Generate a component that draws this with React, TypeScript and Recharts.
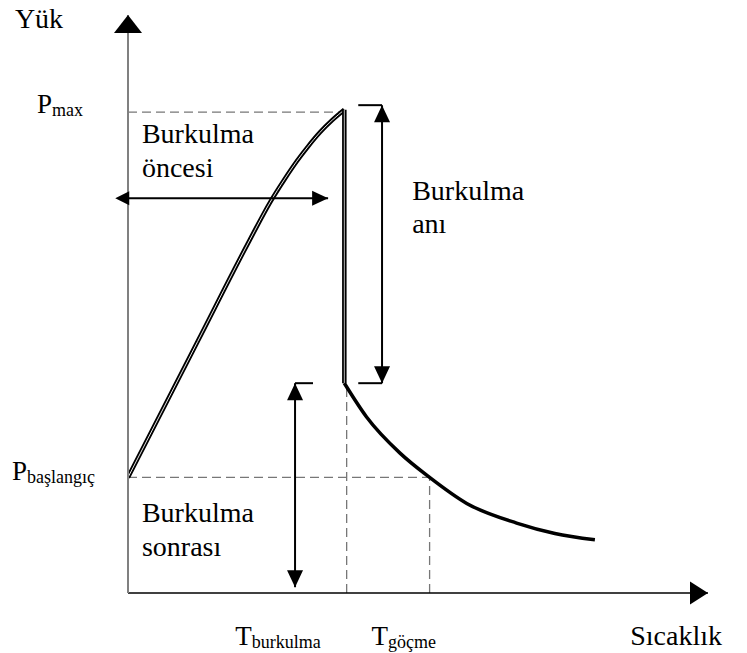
import React from 'react';
import { LineChart, Line, XAxis, YAxis, ReferenceDot } from 'recharts';

// key values on the load (P) and temperature (T) axes, 0..100 units
const P_START = 20;
const P_MAX = 83.6;
const T_BUCKLE = 37.3;
const T_COLLAPSE = 52;
const DROP_BOTTOM = 36.3;

// pre-buckling branch
const riseT = [0, 12, 21, 24.5, 27, 29.1, 31, 33.1, 35.2, T_BUCKLE];
const riseP = [P_START, 43.5, 61.1, 67.6, 71.6, 74.7, 77.2, 79.7, 81.8, P_MAX];

// post-buckling branch
const fallT = [T_BUCKLE, 41.1, 46.9, T_COLLAPSE, 58.4, 67.0, 73.6, 80.5];
const fallP = [DROP_BOTTOM, 30.5, 24.2, P_START, 15.5, 12.1, 10.3, 9.2];

const yTicks = [P_START, P_MAX];
const yTickSubs = ['başlangıç', 'max'];
const xTicks = [T_BUCKLE, T_COLLAPSE];
const xTickSubs = ['burkulma', 'göçme'];

// annotation arrows
const preArrow = { y: 68.3, from: -2.2, to: 34.5 };
const duringArrow = { x: 43.8, from: DROP_BOTTOM, to: 84.4, barFrom: 39.7 };
const postArrow = { x: 28.8, from: 1.0, to: DROP_BOTTOM, barTo: 31.9 };

const texts = [
  { x: -19.5, y: 97.8, text: 'Yük' },
  { x: 86.6, y: -9.0, text: 'Sıcaklık' },
  { x: 2.4, y: 77.9, text: 'Burkulma' },
  { x: 2.4, y: 72.0, text: 'öncesi' },
  { x: 49.0, y: 68.0, text: 'Burkulma' },
  { x: 49.0, y: 62.3, text: 'anı' },
  { x: 2.4, y: 12.3, text: 'Burkulma' },
  { x: 2.4, y: 6.4, text: 'sonrası' },
];

const pts = (xs: number[], ys: number[]) => xs.map((x, i) => ({ x, y: ys[i] }));
const seg = (x1: number, y1: number, x2: number, y2: number) => [{ x: x1, y: y1 }, { x: x2, y: y2 }];

const riseData = pts(riseT, riseP);
const fallData = pts(fallT, fallP);
const dropData = seg(T_BUCKLE, P_MAX, T_BUCKLE, DROP_BOTTOM);

const FONT = { fontFamily: "'Liberation Serif', 'Times New Roman', serif" };

const arrowhead = (dir: string, len: number, half: number) => (props: any) => {
  const { cx, cy } = props;
  let p = '';
  if (dir === 'up') p = `${cx},${cy} ${cx - half},${cy + len} ${cx + half},${cy + len}`;
  if (dir === 'down') p = `${cx},${cy} ${cx - half},${cy - len} ${cx + half},${cy - len}`;
  if (dir === 'right') p = `${cx},${cy} ${cx - len},${cy - half} ${cx - len},${cy + half}`;
  if (dir === 'left') p = `${cx},${cy} ${cx + len},${cy - half} ${cx + len},${cy + half}`;
  return <polygon points={p} fill="#000" />;
};

const textShape = (label: string) => (props: any) => (
  <text x={props.cx} y={props.cy} style={FONT} fontSize={28} fill="#000">
    {label}
  </text>
);

const YTick = (props: any) => {
  const { x, y, payload } = props;
  const i = yTicks.indexOf(payload.value);
  const dx = i === 0 ? -116 : -91;
  return (
    <text x={x + dx} y={y + 3} style={FONT} fontSize={27} fill="#000">
      <tspan>P</tspan>
      <tspan fontSize={18} dy={3}>{yTickSubs[i]}</tspan>
    </text>
  );
};

const XTick = (props: any) => {
  const { x, y, payload } = props;
  const i = xTicks.indexOf(payload.value);
  const dx = i === 0 ? -109 : -58;
  return (
    <text x={x + dx} y={y + 52} style={FONT} fontSize={27} fill="#000">
      <tspan>T</tspan>
      <tspan fontSize={18} dy={3}>{xTickSubs[i]}</tspan>
    </text>
  );
};

const plain = { dot: false, activeDot: false, isAnimationActive: false, dataKey: 'y' } as const;
const dashed = { ...plain, stroke: '#777', strokeWidth: 1.3, strokeDasharray: '9 5' };
const arrowLine = { ...plain, stroke: '#000', strokeWidth: 2 };

export default function App() {
  return (
    <div style={{ position: 'absolute', left: 0, top: 0, width: 747, height: 653, background: '#fff' }}>
      <LineChart width={747} height={653} margin={{ top: 15, right: 39, bottom: 0, left: 0 }}>
        <XAxis
          type="number"
          dataKey="x"
          domain={[0, 100]}
          allowDataOverflow
          ticks={xTicks}
          tick={<XTick />}
          tickLine={false}
          tickSize={0}
          tickMargin={0}
          height={60}
          axisLine={{ stroke: '#000', strokeWidth: 1.5 }}
        />
        <YAxis
          type="number"
          dataKey="y"
          domain={[0, 100]}
          allowDataOverflow
          ticks={yTicks}
          tick={<YTick />}
          tickLine={false}
          tickSize={0}
          tickMargin={0}
          width={128}
          axisLine={{ stroke: '#808080', strokeWidth: 2 }}
        />

        {/* guide lines */}
        <Line {...dashed} data={seg(0, P_MAX - 0.4, T_BUCKLE, P_MAX - 0.4)} />
        <Line {...dashed} data={seg(0, P_START, T_COLLAPSE, P_START)} />
        <Line {...dashed} data={seg(T_BUCKLE + 0.4, 0, T_BUCKLE + 0.4, DROP_BOTTOM)} />
        <Line {...dashed} data={seg(T_COLLAPSE, 0, T_COLLAPSE, P_START)} />

        {/* load path */}
        <Line {...plain} type="monotone" data={riseData} stroke="#000" strokeWidth={4.5} />
        <Line {...plain} type="monotone" data={riseData} stroke="#fff" strokeWidth={0.9} />
        <Line {...plain} data={dropData} stroke="#000" strokeWidth={4.5} />
        <Line {...plain} data={dropData} stroke="#ccc" strokeWidth={0.9} />
        <Line {...plain} type="monotone" data={fallData} stroke="#000" strokeWidth={3.5} />

        {/* annotation arrows */}
        <Line {...arrowLine} data={seg(preArrow.from, preArrow.y, preArrow.to, preArrow.y)} />
        <Line {...arrowLine} data={seg(duringArrow.x, duringArrow.from, duringArrow.x, duringArrow.to)} />
        <Line {...arrowLine} data={seg(duringArrow.barFrom, duringArrow.to, duringArrow.x, duringArrow.to)} />
        <Line {...arrowLine} data={seg(duringArrow.barFrom, duringArrow.from, duringArrow.x, duringArrow.from)} />
        <Line {...arrowLine} data={seg(postArrow.x, postArrow.from, postArrow.x, postArrow.to)} />
        <Line {...arrowLine} data={seg(postArrow.x, postArrow.to, postArrow.barTo, postArrow.to)} />

        <ReferenceDot x={preArrow.from} y={preArrow.y} ifOverflow="visible" shape={arrowhead('left', 14, 7)} />
        <ReferenceDot x={preArrow.to} y={preArrow.y} ifOverflow="visible" shape={arrowhead('right', 16, 7.5)} />
        <ReferenceDot x={duringArrow.x} y={duringArrow.to} ifOverflow="visible" shape={arrowhead('up', 17, 8)} />
        <ReferenceDot x={duringArrow.x} y={duringArrow.from} ifOverflow="visible" shape={arrowhead('down', 17, 8)} />
        <ReferenceDot x={postArrow.x} y={postArrow.to} ifOverflow="visible" shape={arrowhead('up', 17, 8)} />
        <ReferenceDot x={postArrow.x} y={postArrow.from} ifOverflow="visible" shape={arrowhead('down', 17, 8)} />

        {/* axis arrows */}
        <ReferenceDot x={0} y={100} ifOverflow="visible" shape={arrowhead('up', 18, 14)} />
        <ReferenceDot x={100} y={0} ifOverflow="visible" shape={arrowhead('right', 18, 11.5)} />

        {texts.map((t, i) => (
          <ReferenceDot key={i} x={t.x} y={t.y} ifOverflow="visible" shape={textShape(t.text)} />
        ))}
      </LineChart>
    </div>
  );
}
